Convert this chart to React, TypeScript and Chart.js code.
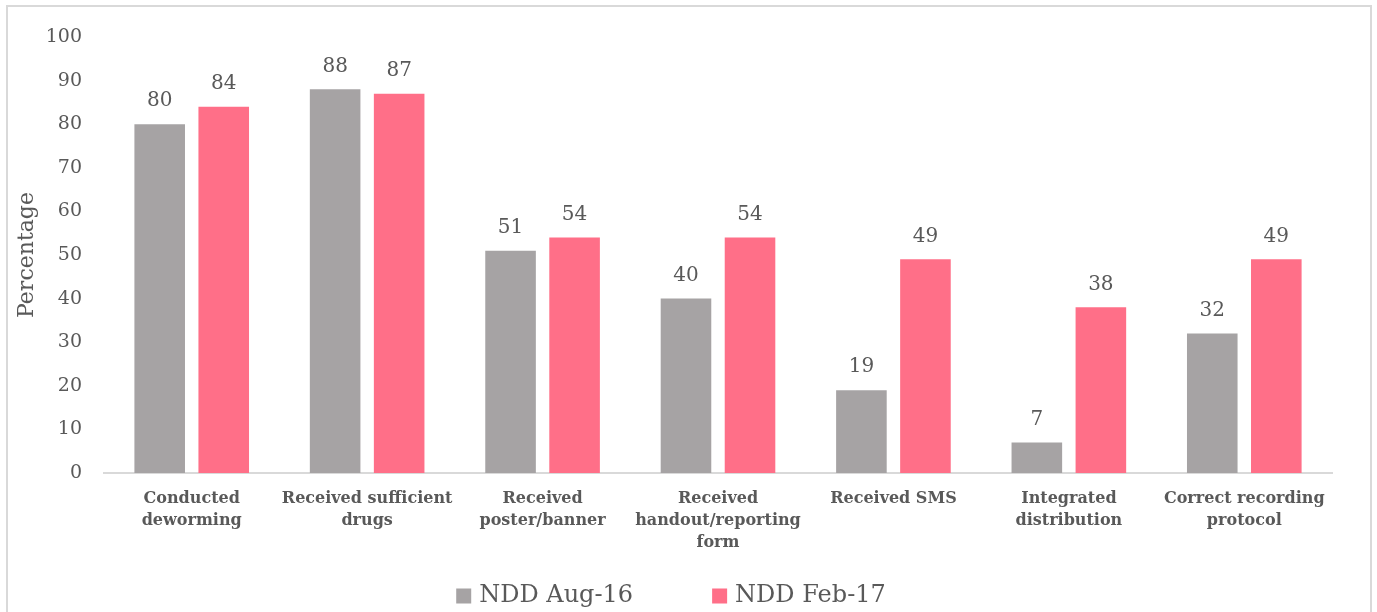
import React, { useEffect, useRef } from "react";
import { Chart, registerables } from "chart.js";

Chart.register(...registerables);

const categories: (string | string[])[] = [
  ["Conducted", "deworming"],
  ["Received sufficient", "drugs"],
  ["Received", "poster/banner"],
  ["Received", "handout/reporting", "form"],
  "Received SMS",
  ["Integrated", "distribution"],
  ["Correct recording", "protocol"],
];
const aug16 = [80, 88, 51, 40, 19, 7, 32];
const feb17 = [84, 87, 54, 54, 49, 38, 49];
const seriesNames = ["NDD Aug-16", "NDD Feb-17"];
const seriesColors = ["#A6A3A4", "#FF6F88"];

const FONT = "'DejaVu Serif', 'Liberation Serif', serif";
const TEXT = "#595959";

const valueLabels = {
  id: "valueLabels",
  afterDatasetsDraw(chart: any) {
    const ctx = chart.ctx;
    ctx.save();
    ctx.font = `20px ${FONT}`;
    ctx.fillStyle = TEXT;
    ctx.textAlign = "center";
    ctx.textBaseline = "bottom";
    chart.data.datasets.forEach((ds: any, i: number) => {
      const meta = chart.getDatasetMeta(i);
      meta.data.forEach((bar: any, j: number) => {
        ctx.fillText(String(ds.data[j]), bar.x, bar.y - 13);
      });
    });
    ctx.restore();
  },
};

const customLegend = {
  id: "customLegend",
  afterDraw(chart: any) {
    const ctx = chart.ctx;
    ctx.save();
    ctx.font = `24px ${FONT}`;
    ctx.textBaseline = "middle";
    const box = 15;
    const gapBoxText = 8;
    const gapItems = 79;
    const widths = seriesNames.map((n) => box + gapBoxText + ctx.measureText(n).width);
    const total = widths.reduce((a, b) => a + b, 0) + gapItems * (widths.length - 1);
    let x = 671 - total / 2;
    const y = 596;
    seriesNames.forEach((n, i) => {
      ctx.fillStyle = seriesColors[i];
      ctx.fillRect(x, y - box / 2, box, box);
      ctx.fillStyle = TEXT;
      ctx.textAlign = "left";
      ctx.fillText(n, x + box + gapBoxText, y);
      x += widths[i] + gapItems;
    });
    ctx.restore();
  },
};

export default function App() {
  const ref = useRef<HTMLCanvasElement>(null);
  useEffect(() => {
    if (!ref.current) return;
    const chart = new Chart(ref.current, {
      type: "bar",
      data: {
        labels: categories,
        datasets: [
          { label: seriesNames[0], data: aug16, backgroundColor: seriesColors[0] },
          { label: seriesNames[1], data: feb17, backgroundColor: seriesColors[1] },
        ],
      },
      options: {
        animation: false,
        responsive: false,
        maintainAspectRatio: false,
        layout: { padding: { left: 0, right: 45, top: 37, bottom: 0 } },
        datasets: { bar: { categoryPercentage: 0.73, barPercentage: 0.79 } },
        plugins: {
          legend: { display: false },
          tooltip: { enabled: false },
        },
        scales: {
          x: {
            grid: { display: false },
            border: { display: true, color: "#D9D9D9", width: 2 },
            ticks: {
              color: TEXT,
              font: { family: FONT, size: 16, weight: "bold", lineHeight: 1.375 },
              padding: 7,
              maxRotation: 0,
              autoSkip: false,
            },
            afterFit: (s: any) => {
              s.height = 139;
            },
          },
          y: {
            min: 0,
            max: 100,
            grid: { display: false, drawTicks: false },
            border: { display: false },
            ticks: {
              stepSize: 10,
              color: TEXT,
              font: { family: FONT, size: 19 },
              padding: 22,
            },
            title: {
              display: true,
              text: "Percentage",
              color: TEXT,
              font: { family: FONT, size: 22 },
              padding: { top: 14, bottom: 0 },
            },
            afterFit: (s: any) => {
              s.width = 104;
            },
          },
        },
      },
      plugins: [valueLabels, customLegend],
    });
    return () => chart.destroy();
  }, []);
  return (
    <div
      style={{
        position: "fixed",
        left: 0,
        top: 0,
        width: 1377,
        height: 612,
        overflow: "hidden",
        background: "#fff",
      }}
    >
      <div
        style={{
          position: "absolute",
          left: 6,
          top: 5,
          width: 1362,
          height: 640,
          border: "2px solid #D9D9D9",
        }}
      />
      <canvas ref={ref} width={1377} height={612} style={{ position: "absolute", left: 0, top: 0 }} />
    </div>
  );
}
